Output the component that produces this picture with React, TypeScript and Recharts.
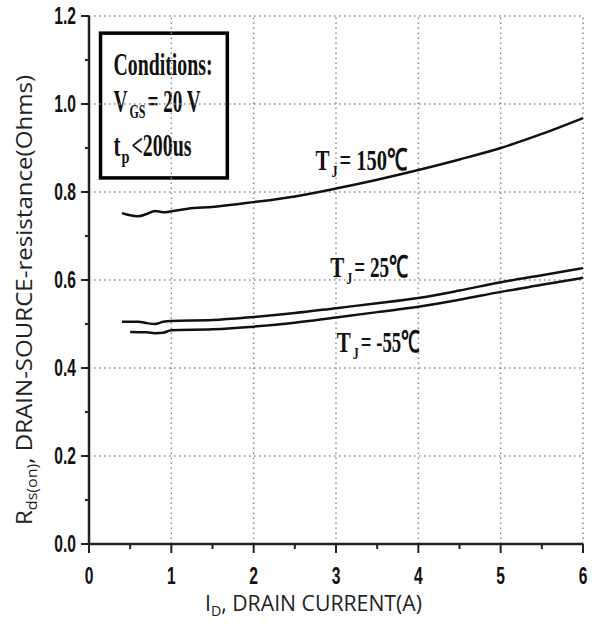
import React from "react";
import {
  LineChart,
  Line,
  XAxis,
  YAxis,
  ReferenceLine,
  ReferenceDot,
  ReferenceArea,
} from "recharts";

// drain current (A) and on-resistance (Ohms)
const current150 = [0.4, 0.5, 0.6, 0.7, 0.8, 0.9, 1.0, 1.2, 1.5, 2.0, 2.5, 3.0, 3.5, 4.0, 4.5, 5.0, 5.5, 6.0];
const rds150 = [0.752, 0.747, 0.745, 0.75, 0.757, 0.754, 0.756, 0.762, 0.766, 0.777, 0.79, 0.808, 0.828, 0.85, 0.874, 0.9, 0.932, 0.968];

const current25 = [0.4, 0.6, 0.7, 0.8, 0.9, 1.0, 1.5, 2.0, 2.5, 3.0, 3.5, 4.0, 4.5, 5.0, 5.5, 6.0];
const rds25 = [0.505, 0.505, 0.502, 0.5, 0.505, 0.507, 0.509, 0.516, 0.525, 0.536, 0.547, 0.559, 0.576, 0.595, 0.611, 0.627];

const currentM55 = [0.5, 0.7, 0.8, 0.9, 1.0, 1.5, 2.0, 2.5, 3.0, 3.5, 4.0, 4.5, 5.0, 5.5, 6.0];
const rdsM55 = [0.482, 0.481, 0.479, 0.48, 0.486, 0.488, 0.494, 0.503, 0.515, 0.527, 0.539, 0.555, 0.573, 0.589, 0.605];

const xTicks = [0, 0.5, 1, 1.5, 2, 2.5, 3, 3.5, 4, 4.5, 5, 5.5, 6];
const yTicks = [0, 0.1, 0.2, 0.3, 0.4, 0.5, 0.6, 0.7, 0.8, 0.9, 1.0, 1.1, 1.2];
const xGrid = [1, 2, 3, 4, 5, 6];
const yGrid = [0.2, 0.4, 0.6, 0.8, 1.0, 1.2];

const toPoints = (xs: number[], ys: number[]) => xs.map((x, i) => ({ x, r: ys[i] }));
const data150 = toPoints(current150, rds150);
const data25 = toPoints(current25, rds25);
const dataM55 = toPoints(currentM55, rdsM55);

const tickFont = "'Liberation Sans', Arial, sans-serif";
const serifFont = "'Liberation Serif', 'Times New Roman', serif";
const labelFont = "'Open Sans', 'Noto Sans', sans-serif";

const isMajor = (v: number) => Math.abs(v * 5 - Math.round(v * 5)) < 1e-6;

// condensed bold tick numbers like the datasheet's Arial Narrow
const NarrowText = ({ x, y, anchor, children }: any) => (
  <text
    transform={`translate(${x}, ${y}) scale(0.78, 1.15)`}
    textAnchor={anchor}
    fontFamily={tickFont}
    fontWeight="bold"
    fontSize={20}
    fill="#111"
  >
    {children}
  </text>
);

const XTick = (props: any) => {
  const { x, y, payload } = props;
  const major = Number.isInteger(payload.value);
  return (
    <g>
      <line x1={x} x2={x} y1={y} y2={y + (major ? 9 : 5)} stroke="#222" strokeWidth={2} />
      {major && (
        <NarrowText x={x} y={y + 40} anchor="middle">
          {payload.value}
        </NarrowText>
      )}
    </g>
  );
};

const YTick = (props: any) => {
  const { x, y, payload } = props;
  const major = isMajor(payload.value);
  return (
    <g>
      <line x1={x} x2={x - (major ? 8 : 4)} y1={y} y2={y} stroke="#222" strokeWidth={2} />
      {major && (
        <NarrowText x={x - 13} y={y + 8} anchor="end">
          {payload.value.toFixed(1)}
        </NarrowText>
      )}
    </g>
  );
};

const tempLabel = (temp: string, width: number) => (props: any) => {
  const { cx, cy } = props;
  return (
    <g fontFamily={serifFont} fontWeight="bold" fill="#111">
      <text x={cx} y={cy} fontSize={30} textLength={14} lengthAdjust="spacingAndGlyphs">
        T
      </text>
      <text x={cx + 16} y={cy + 7} fontSize={17} textLength={6} lengthAdjust="spacingAndGlyphs">
        J
      </text>
      <text x={cx + 24} y={cy} fontSize={30} textLength={width - 24} lengthAdjust="spacingAndGlyphs">
        {`= ${temp}`}
      </text>
    </g>
  );
};

const ConditionsBox = (props: any) => {
  const { x, y, width, height } = props;
  const tx = x + 13;
  return (
    <g fontFamily={serifFont} fontWeight="bold" fill="#111">
      <rect x={x} y={y} width={width} height={height} fill="#fff" stroke="#000" strokeWidth={3.5} />
      <text x={tx} y={y + 42} fontSize={31} textLength={99} lengthAdjust="spacingAndGlyphs">
        Conditions:
      </text>
      <text x={tx} y={y + 79} fontSize={31} textLength={14} lengthAdjust="spacingAndGlyphs">
        V
      </text>
      <text x={tx + 16} y={y + 85} fontSize={18} textLength={16} lengthAdjust="spacingAndGlyphs">
        GS
      </text>
      <text x={tx + 34} y={y + 79} fontSize={31} textLength={53} lengthAdjust="spacingAndGlyphs">
        = 20 V
      </text>
      <text x={tx} y={y + 123} fontSize={31} textLength={7} lengthAdjust="spacingAndGlyphs">
        t
      </text>
      <text x={tx + 8} y={y + 130} fontSize={18} textLength={8} lengthAdjust="spacingAndGlyphs">
        p
      </text>
      <text x={tx + 18} y={y + 123} fontSize={31} textLength={60} lengthAdjust="spacingAndGlyphs">
        &lt;200us
      </text>
    </g>
  );
};

const XTitle = () => (
  <text x={205} y={611} fontFamily={labelFont} fontSize={21} fill="#222" textLength={217} lengthAdjust="spacingAndGlyphs">
    I<tspan fontSize={14} dy={5}>D</tspan>
    <tspan dy={-5}>, DRAIN CURRENT(A)</tspan>
  </text>
);

const YTitle = () => (
  <text
    x={0}
    y={0}
    transform="translate(32, 525) rotate(-90)"
    fontFamily={labelFont}
    fontSize={21}
    fill="#222"
    textLength={450}
    lengthAdjust="spacingAndGlyphs"
  >
    R<tspan fontSize={14} dy={5}>ds(on)</tspan>
    <tspan dy={-5}>, DRAIN-SOURCE-resistance(Ohms)</tspan>
  </text>
);

const App: React.FC = () => {
  return (
    <div style={{ position: "absolute", left: 0, top: 0, background: "#fff" }}>
      <LineChart width={594} height={628} margin={{ top: 16, right: 11, bottom: 0, left: 0 }}>
        {xGrid.map((v) => (
          <ReferenceLine key={`gx${v}`} x={v} stroke="#8a8a8a" strokeWidth={1.5} strokeDasharray="1.5 3.5" />
        ))}
        {yGrid.map((v) => (
          <ReferenceLine key={`gy${v}`} y={v} stroke="#8a8a8a" strokeWidth={1.5} strokeDasharray="1.5 3.5" />
        ))}
        <XAxis
          dataKey="x"
          type="number"
          domain={[0, 6]}
          ticks={xTicks}
          interval={0}
          height={84}
          tickSize={0}
          tickMargin={0}
          tickLine={false}
          tick={<XTick />}
          axisLine={{ stroke: "#222", strokeWidth: 2.5 }}
          allowDecimals
          label={{ content: () => <XTitle /> }}
        />
        <YAxis
          type="number"
          domain={[0, 1.2]}
          ticks={yTicks}
          interval={0}
          width={89}
          tickSize={0}
          tickMargin={0}
          tickLine={false}
          tick={<YTick />}
          axisLine={{ stroke: "#222", strokeWidth: 2.5 }}
          label={{ content: () => <YTitle /> }}
        />
        <Line data={data150} dataKey="r" type="monotone" stroke="#111" strokeWidth={2.5} dot={false} isAnimationActive={false} />
        <Line data={data25} dataKey="r" type="monotone" stroke="#111" strokeWidth={2.5} dot={false} isAnimationActive={false} />
        <Line data={dataM55} dataKey="r" type="monotone" stroke="#111" strokeWidth={2.5} dot={false} isAnimationActive={false} />
        <ReferenceArea x1={0.14} x2={1.68} y1={0.832} y2={1.161} shape={<ConditionsBox />} ifOverflow="visible" />
        <ReferenceDot x={2.75} y={0.85} r={0} shape={tempLabel("150℃", 92)} ifOverflow="visible" />
        <ReferenceDot x={2.93} y={0.607} r={0} shape={tempLabel("25℃", 78)} ifOverflow="visible" />
        <ReferenceDot x={3.01} y={0.436} r={0} shape={tempLabel("-55℃", 83)} ifOverflow="visible" />
      </LineChart>
    </div>
  );
};

export default App;
